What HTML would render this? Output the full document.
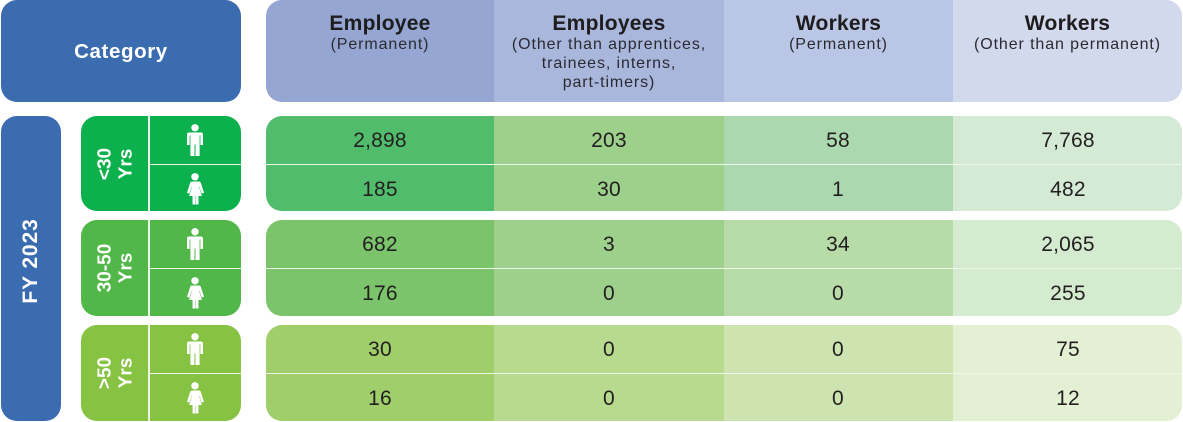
<!DOCTYPE html>
<html lang="en">
<head>
<meta charset="utf-8">
<title>FY 2023 Category Table</title>
<style>
html,body{margin:0;padding:0;background:#fff}
#stage{position:relative;width:1183px;height:422px;overflow:hidden;background:#fff;font-family:"Liberation Sans",sans-serif;color:#231f20}
.box{position:absolute;border-radius:16px;overflow:hidden}
.cell{position:absolute;top:0;height:100%}
.c1{left:0;width:228px}.c2{left:228px;width:230px}.c3{left:458px;width:229px}.c4{left:687px;width:229px}
.hd{text-align:center}
.hd b{display:block;position:absolute;left:0;right:0;top:12px;font-size:21px;line-height:24px;letter-spacing:.25px;color:#1f1c1d}
.hd span{display:block;position:absolute;left:0;right:0;top:35px;font-size:16px;line-height:19px;letter-spacing:.9px;color:#2b2a30}
.num{position:absolute;width:120px;margin-left:-60px;height:32px;line-height:32px;text-align:center;font-size:21px;letter-spacing:.2px}
.rule{position:absolute;left:0;right:0;height:1.5px;background:#eef6ea}
.rule.g{left:68px}
.rot{position:absolute;color:#fff;font-weight:700;text-align:center;transform:translate(-50%,-50%) rotate(-90deg);white-space:nowrap;text-rendering:geometricPrecision}
.age{font-size:19px;line-height:20.500px}
.v{position:absolute;top:0;bottom:0;width:1.500px;background:#eef6ea}
.icon{position:absolute;width:18px;height:32px;left:105px}
</style>
</head>
<body>
<div id="stage">
<svg width="0" height="0" style="position:absolute">
  <symbol id="man" viewBox="0 0 18 32"><circle cx="9" cy="3.800" r="3.700" fill="#fff"/><path d="M3 8.500h12a2 2 0 0 1 2 2v10.500h-2.600v-9.500h-.8v20.500h-4.100v-11.500h-1v11.500h-4.100v-20.500h-.8v9.500h-2.600v-10.500a2 2 0 0 1 2-2z" fill="#fff"/></symbol>
  <symbol id="woman" viewBox="0 0 18 32"><circle cx="9" cy="3.800" r="3.700" fill="#fff"/><path d="M5.200 8.500h7.600c1 0 1.800.5 2.100 1.500l3.100 9.800-2.300.8-2.500-6.800-.3 0 3 9.200h-3.400v8.500h-2.800v-8.500h-.4v8.500h-2.800v-8.500h-3.400l3-9.200-.3 0-2.500 6.800-2.300-.8 3.100-9.800c.3-1 1.100-1.500 2.100-1.500z" fill="#fff"/></symbol>
</svg>

<div class="box" style="left:1px;top:0;width:240px;height:102px;background:#3b6cb0">
  <div style="position:absolute;left:0;right:0;top:38px;line-height:28px;text-align:center;color:#fff;font-weight:700;font-size:20.500px;letter-spacing:.6px">Category</div>
</div>

<div class="box" style="left:266px;top:0;width:916px;height:102px">
  <div class="cell c1 hd" style="background:#95a6d3"><b>Employee</b><span>(Permanent)</span></div>
  <div class="cell c2 hd" style="background:#aab7dc"><b>Employees</b><span>(Other than apprentices,<br>trainees, interns,<br>part-timers)</span></div>
  <div class="cell c3 hd" style="background:#bac6e5"><b>Workers</b><span>(Permanent)</span></div>
  <div class="cell c4 hd" style="background:#d2d9ed"><b>Workers</b><span>(Other than permanent)</span></div>
</div>

<div class="box" style="left:1px;top:116px;width:60px;height:305px;background:#3b6cb0">
  <div class="rot" style="left:30px;top:145px;font-size:21px;letter-spacing:.9px">FY 2023</div>
</div>

<!-- under 30 -->
<div class="box" style="left:81px;top:116px;width:160px;height:95px;background:#0cb04c">
  <div class="rot age" style="left:35px;top:48px">&lt;30<br>Yrs</div>
  <div class="v" style="left:67px"></div>
  <div class="rule g" style="top:47.500px"></div>
  <svg class="icon" style="top:8px"><use href="#man"/></svg>
  <svg class="icon" style="top:57px"><use href="#woman"/></svg>
</div>
<div class="box" style="left:266px;top:116px;width:916px;height:95px">
  <div class="cell c1" style="background:#52bc6d"></div>
  <div class="cell c2" style="background:#9dd08b"></div>
  <div class="cell c3" style="background:#abd8af"></div>
  <div class="cell c4" style="background:#d4ead5"></div>
  <div class="rule" style="top:47.500px"></div>
  <div class="num" style="left:114px;top:9px">2,898</div>
  <div class="num" style="left:343px;top:9px">203</div>
  <div class="num" style="left:572px;top:9px">58</div>
  <div class="num" style="left:802px;top:9px">7,768</div>
  <div class="num" style="left:114px;top:58px">185</div>
  <div class="num" style="left:343px;top:58px">30</div>
  <div class="num" style="left:572px;top:58px">1</div>
  <div class="num" style="left:802px;top:58px">482</div>
</div>

<!-- 30-50 -->
<div class="box" style="left:81px;top:220px;width:160px;height:96px;background:#50b748">
  <div class="rot age" style="left:35px;top:48px">30-50<br>Yrs</div>
  <div class="v" style="left:67px"></div>
  <div class="rule g" style="top:47.500px"></div>
  <svg class="icon" style="top:8px"><use href="#man"/></svg>
  <svg class="icon" style="top:57px"><use href="#woman"/></svg>
</div>
<div class="box" style="left:266px;top:220px;width:916px;height:96px">
  <div class="cell c1" style="background:#7bc46c"></div>
  <div class="cell c2" style="background:#9dd08b"></div>
  <div class="cell c3" style="background:#b8dca8"></div>
  <div class="cell c4" style="background:#d5ebd0"></div>
  <div class="rule" style="top:47.500px"></div>
  <div class="num" style="left:114px;top:9px">682</div>
  <div class="num" style="left:343px;top:9px">3</div>
  <div class="num" style="left:572px;top:9px">34</div>
  <div class="num" style="left:802px;top:9px">2,065</div>
  <div class="num" style="left:114px;top:58px">176</div>
  <div class="num" style="left:343px;top:58px">0</div>
  <div class="num" style="left:572px;top:58px">0</div>
  <div class="num" style="left:802px;top:58px">255</div>
</div>

<!-- over 50 -->
<div class="box" style="left:81px;top:325px;width:160px;height:96px;background:#86c343">
  <div class="rot age" style="left:35px;top:48px">&gt;50<br>Yrs</div>
  <div class="v" style="left:67px"></div>
  <div class="rule g" style="top:47.500px"></div>
  <svg class="icon" style="top:8px"><use href="#man"/></svg>
  <svg class="icon" style="top:57px"><use href="#woman"/></svg>
</div>
<div class="box" style="left:266px;top:325px;width:916px;height:96px">
  <div class="cell c1" style="background:#9fce6b"></div>
  <div class="cell c2" style="background:#b8da8e"></div>
  <div class="cell c3" style="background:#cde4b0"></div>
  <div class="cell c4" style="background:#e4f0d4"></div>
  <div class="rule" style="top:47.500px"></div>
  <div class="num" style="left:114px;top:9px">30</div>
  <div class="num" style="left:343px;top:9px">0</div>
  <div class="num" style="left:572px;top:9px">0</div>
  <div class="num" style="left:802px;top:9px">75</div>
  <div class="num" style="left:114px;top:58px">16</div>
  <div class="num" style="left:343px;top:58px">0</div>
  <div class="num" style="left:572px;top:58px">0</div>
  <div class="num" style="left:802px;top:58px">12</div>
</div>
</div>
</body>
</html>
